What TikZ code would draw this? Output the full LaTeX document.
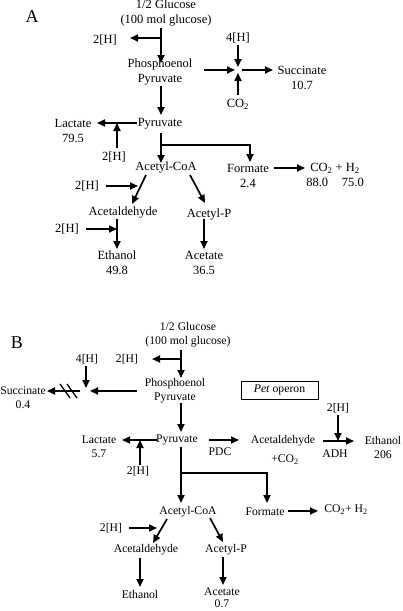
\documentclass[tikz,border=0pt]{standalone}
\usepackage{fontspec}
\setmainfont{Liberation Serif}
\usetikzlibrary{arrows.meta}
\begin{document}
\begin{tikzpicture}[x=1pt,y=-1pt,
  fa/.style={inner sep=0pt,align=center,font=\fontsize{12.5}{15}\selectfont},
  fb/.style={inner sep=0pt,align=center,font=\fontsize{11.7}{14}\selectfont},
  panel/.style={inner sep=0pt,font=\fontsize{18}{20}\selectfont},
  arr/.style={line width=1.7pt,-{Triangle[length=8pt,width=7pt]}},
  ln/.style={line width=1.7pt},
  slash/.style={line width=1.3pt}]
\useasboundingbox[fill=white] (0,0) rectangle (403,611);
% ---------------- Panel A ----------------
\node[panel] (labA) at (32,17) {A};
\node[fa] (glcA) at (166,13) {1/2 Glucose\\(100 mol glucose)};
\node[fa] (hA1) at (105,40) {2[H]};
\node[fa] (pepA) at (160,72) {Phosphoenol\\Pyruvate};
\node[fa] (pyrA) at (160,124) {Pyruvate};
\node[fa] (lacA) at (73,131) {Lactate\\79.5};
\node[fa] (hA2) at (114,157) {2[H]};
\node[fa] (acoA) at (166,168) {Acetyl-CoA};
\node[fa] (forA) at (248,176) {Formate\\2.4};
\node[fa] (co2A) at (335,175) {CO\textsubscript{2} + H\textsubscript{2}\\88.0\hspace{1.1em}75.0};
\node[fa] (hA3) at (87,186) {2[H]};
\node[fa] (aldA) at (123,213) {Acetaldehyde};
\node[fa] (acpA) at (209,215) {Acetyl-P};
\node[fa] (hA4) at (67,229) {2[H]};
\node[fa] (ethA) at (117,263) {Ethanol\\49.8};
\node[fa] (actA) at (204,263) {Acetate\\36.5};
\node[fa] (h4A) at (238,38) {4[H]};
\node[fa] (co2Ab) at (238,104) {CO\textsubscript{2}};
\node[fa] (sucA) at (302,78) {Succinate\\10.7};
\coordinate (jA1) at (161,38);
\coordinate (jA2) at (161,145);
\coordinate (jA3) at (117,123);
\coordinate (jA4) at (117,229);
\coordinate (jA5) at (238,70);
\draw[arr] (161,28) -- (161,63);
\draw[arr] (jA1) -- (130,38);
\draw[arr] (161,86) -- (161,115);
\draw[arr] (137,123) -- (97,123);
\draw[arr] (117,148) -- (jA3);
\draw[arr] (161,133) -- (161,163);
\draw[arr] (jA2) -| (250,162);
\draw[arr] (274,168) -- (305,168);
\draw[arr] (146,175) -- (132,204);
\draw[arr] (106,186) -- (138,186);
\draw[arr] (190,175) -- (205,203);
\draw[arr] (204,219) -- (204,249);
\draw[arr] (117,219) -- (117,249);
\draw[arr] (86,229) -- (jA4);
\draw[arr] (204,70) -- (235,70);
\draw[arr] (238,45) -- (238,67);
\draw[arr] (238,95) -- (238,73);
\draw[arr] (242,70) -- (273,70);
% ---------------- Panel B ----------------
\node[panel] (labB) at (17,343) {B};
\node[fb] (glcB) at (188,335) {1/2 Glucose\\(100 mol glucose)};
\node[fb] (hB1) at (127,359) {2[H]};
\node[fb] (pepB) at (175,391) {Phosphoenol\\Pyruvate};
\node[fb] (h4B) at (87,359) {4[H]};
\node[fb] (sucB) at (23,398) {Succinate\\0.4};
\node[fb] (pyrB) at (177,440) {Pyruvate};
\node[fb] (lacB) at (99,447) {Lactate\\5.7};
\node[fb] (hB2) at (138,471) {2[H]};
\node[fb,draw,line width=0.8pt,minimum width=77pt,minimum height=18pt] (pet) at (279.5,390) {\textit{Pet} operon};
\node[fb] (aldB1) at (283,441) {Acetaldehyde};
\node[fb] (co2B1) at (285,460) {+CO\textsubscript{2}};
\node[fb] (pdc) at (220,452) {PDC};
\node[fb] (hB3) at (338,408) {2[H]};
\node[fb] (adh) at (335,454) {ADH};
\node[fb] (ethB1) at (383,447) {Ethanol\\206};
\node[fb] (acoB) at (188,512) {Acetyl-CoA};
\node[fb] (forB) at (265,512) {Formate};
\node[fb] (co2B) at (346,510) {CO\textsubscript{2}+ H\textsubscript{2}};
\node[fb] (hB4) at (111,528) {2[H]};
\node[fb] (aldB) at (146,550) {Acetaldehyde};
\node[fb] (acpB) at (226,550) {Acetyl-P};
\node[fb] (ethB) at (140,594) {Ethanol};
\node[fb,font=\fontsize{11.7}{12}\selectfont] (actB) at (222,598) {Acetate\\0.7};
\coordinate (jB1) at (181,359);
\coordinate (jB2) at (86,391);
\coordinate (jB3) at (140,440);
\coordinate (jB4) at (181,473);
\coordinate (jB5) at (338,441);
\draw[arr] (181,350) -- (181,378);
\draw[arr] (jB1) -- (152,359);
\draw[arr] (137,391) -- (90,391);
\draw[arr] (86,366) -- (86,388);
\draw[arr] (80,391) -- (47,391);
\draw[slash] (60,384) -- (70,398);
\draw[slash] (67,384) -- (77,398);
\draw[arr] (181,403) -- (181,432);
\draw[arr] (157,440) -- (122,440);
\draw[arr] (140,465) -- (jB3);
\draw[arr] (181,447) -- (181,503);
\draw[arr] (jB4) -| (267,503);
\draw[arr] (209,440) -- (239,440);
\draw[arr] (323,441) -- (354,441);
\draw[arr] (338,415) -- (jB5);
\draw[arr] (288,511) -- (318,511);
\draw[arr] (167,519) -- (153,543);
\draw[arr] (129,528) -- (157,528);
\draw[arr] (210,518) -- (223,542);
\draw[arr] (140,558) -- (140,587);
\draw[arr] (223,557) -- (223,585);
\end{tikzpicture}
\end{document}
